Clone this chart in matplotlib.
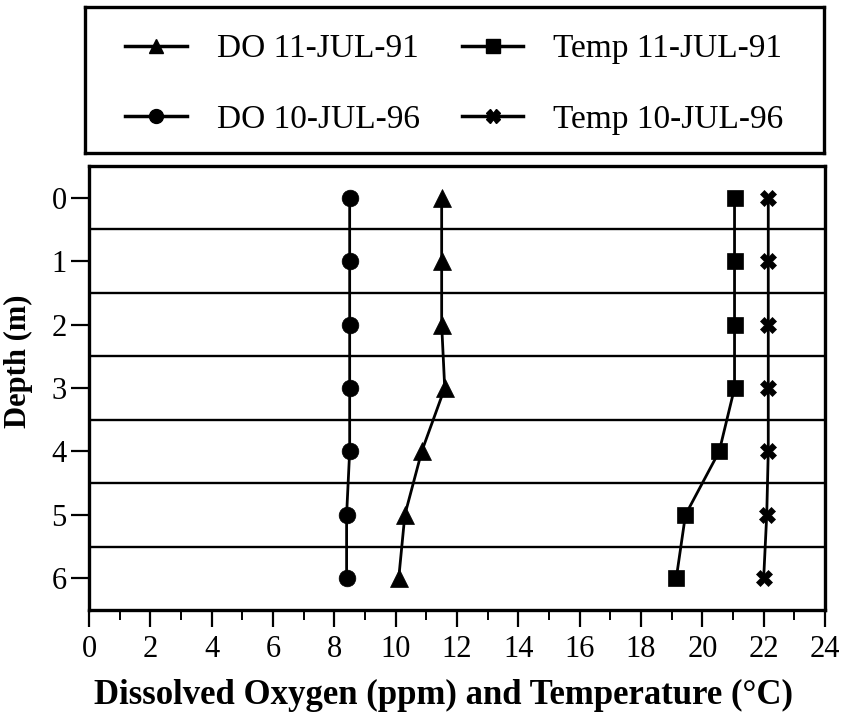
import matplotlib
matplotlib.use("Agg")
import matplotlib.pyplot as plt
from matplotlib.lines import Line2D
from matplotlib.ticker import MultipleLocator

plt.rcParams['font.family'] = ['Liberation Serif', 'DejaVu Serif']

# Depth profile data
depth = [0, 1, 2, 3, 4, 5, 6]
do_1991 = [11.5, 11.5, 11.5, 11.6, 10.85, 10.3, 10.1]
do_1996 = [8.5, 8.5, 8.5, 8.5, 8.5, 8.4, 8.4]
temp_1991 = [21.05, 21.05, 21.05, 21.05, 20.55, 19.45, 19.15]
temp_1996 = [22.15, 22.15, 22.15, 22.15, 22.15, 22.1, 22.0]

labels = ["DO 11-JUL-91", "DO 10-JUL-96", "Temp 11-JUL-91", "Temp 10-JUL-96"]
series = [do_1991, do_1996, temp_1991, temp_1996]
markers = ["^", "o", "s", "X"]
sizes = [13, 12, 12, 11]

x_ticks = list(range(0, 25, 2))
y_ticks = depth
grid_depths = [0.5, 1.5, 2.5, 3.5, 4.5, 5.5]

W, H = 843, 715
fig = plt.figure(figsize=(W / 100, H / 100), dpi=100)
fig.patch.set_facecolor("white")

ax = fig.add_axes([89 / W, (H - 610) / H, 736 / W, 444 / H])

for gy in grid_depths:
    ax.axhline(gy, color="black", lw=1.7, zorder=1)

for vals, mk, ms in zip(series, markers, sizes):
    ax.plot(vals, depth, color="black", lw=2.0, marker=mk, markersize=ms,
            markeredgewidth=0.5, zorder=3, clip_on=False)

ax.set_xlim(0, 24)
ax.set_ylim(6.5, -0.5)
ax.set_xticks(x_ticks)
ax.xaxis.set_minor_locator(MultipleLocator(1))
ax.set_yticks(y_ticks)

for s in ax.spines.values():
    s.set_linewidth(2.4)

ax.tick_params(axis="x", which="major", direction="out", length=12, width=1.6,
               labelsize=22, pad=6)
ax.tick_params(axis="x", which="minor", direction="out", length=7, width=1.4)
ax.tick_params(axis="y", which="major", direction="out", length=13, width=1.6,
               labelsize=22, pad=3)

ax.set_xlabel("Dissolved Oxygen (ppm) and Temperature (°C)", fontsize=25,
              fontweight="bold")
ax.set_ylabel("Depth (m)", fontsize=22, fontweight="bold")
ax.xaxis.set_label_coords(0.481, -0.155)
ax.yaxis.set_label_coords(-0.076, 0.56)

# Boxed legend above the plot
lax = fig.add_axes([85 / W, (H - 153) / H, 739 / W, 146 / H])
lax.set_xticks([])
lax.set_yticks([])
for s in lax.spines.values():
    s.set_linewidth(2.4)

handles = [Line2D([], [], color="black", lw=2.5, marker=mk, markersize=10)
           for mk in markers]
lax.legend(handles, labels, ncol=2, loc="center", bbox_to_anchor=(0.5, 0.47),
           frameon=False, fontsize=24, handlelength=1.85, handletextpad=0.9,
           columnspacing=1.25, labelspacing=1.2, borderaxespad=0)

fig.savefig("out.png", dpi=100, facecolor="white")
